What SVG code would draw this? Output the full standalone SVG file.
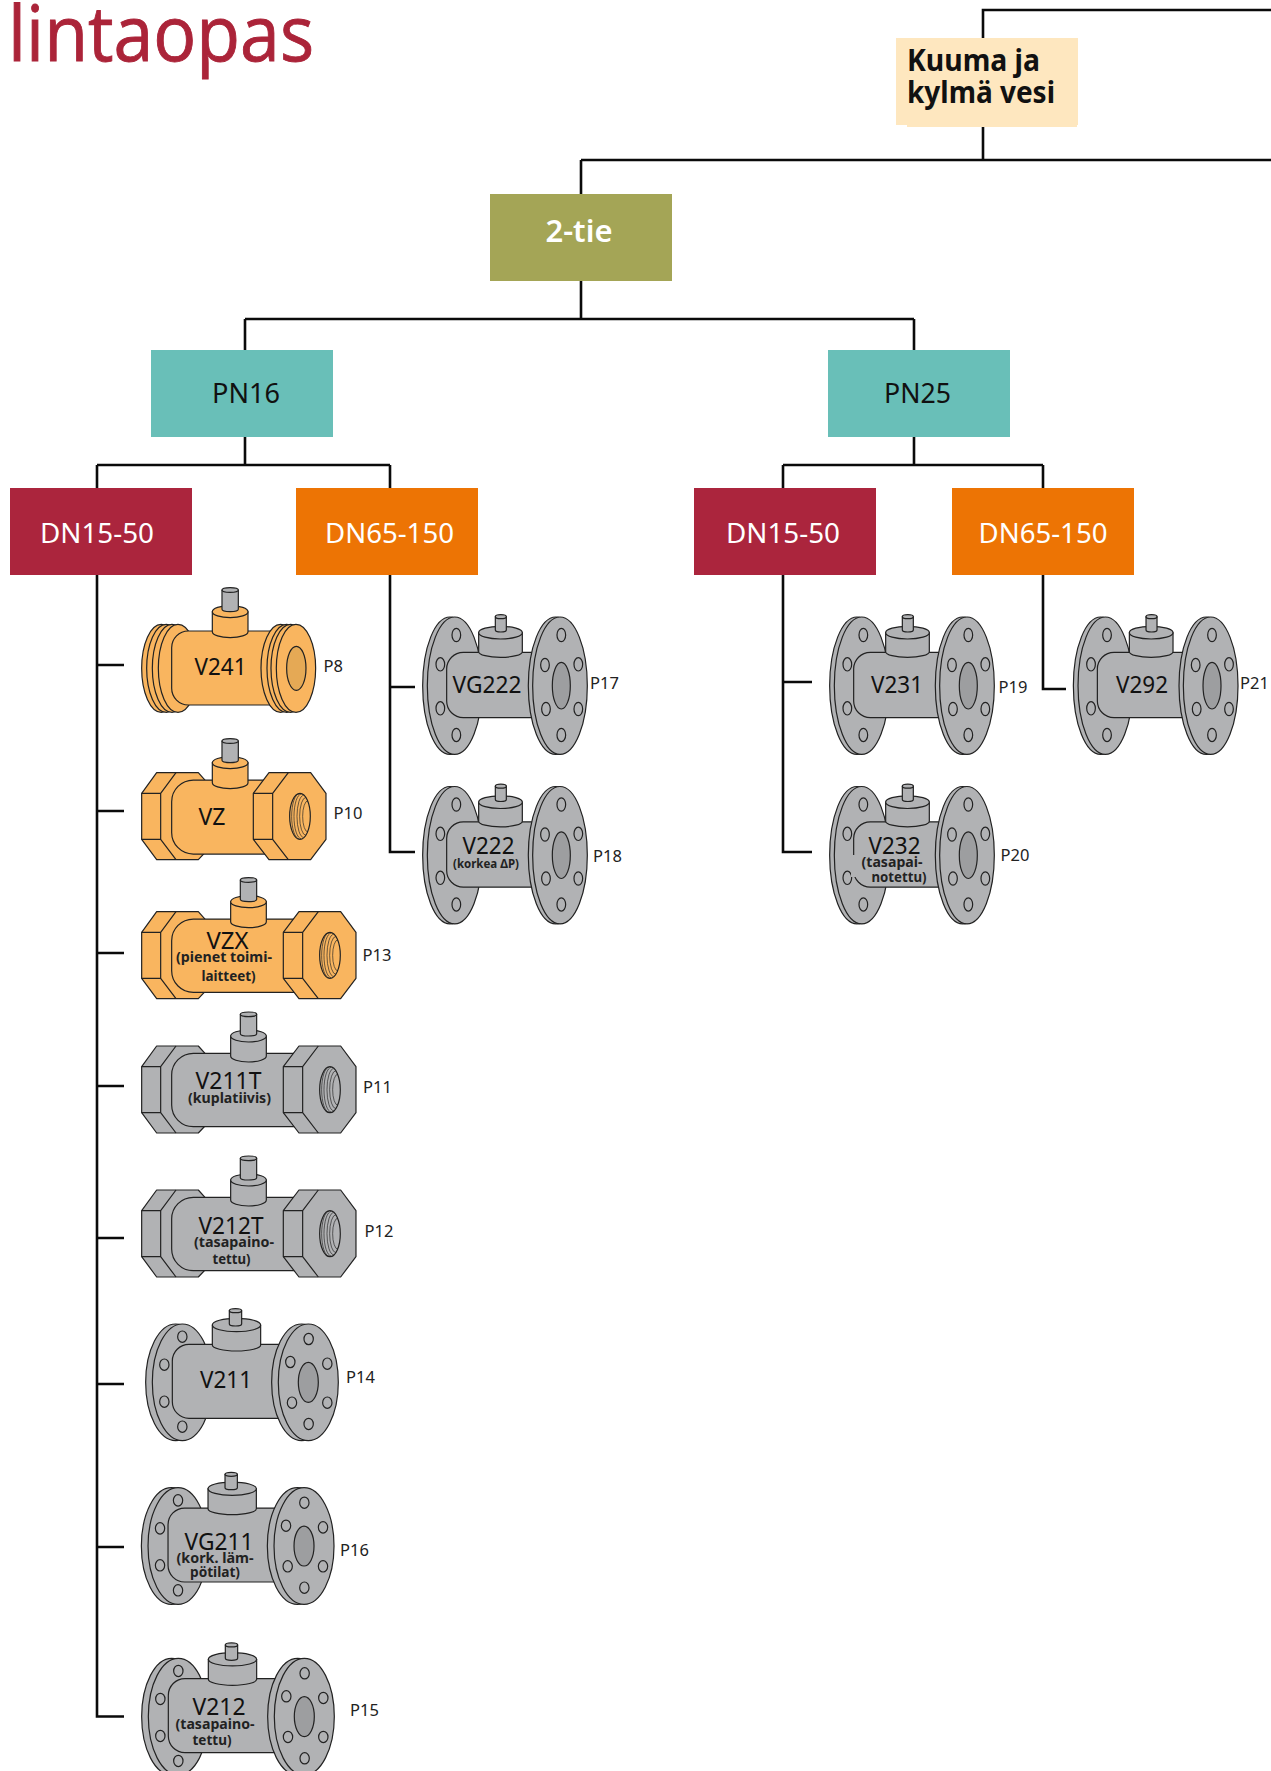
<svg xmlns="http://www.w3.org/2000/svg" width="1271" height="1771" viewBox="0 0 1271 1771">
<style>
text{font-family:"Noto Sans","Open Sans",sans-serif;fill:#111}
.box{font-size:28px}
.w{fill:#fff}
.n{font-size:23px}
.s{font-size:14.5px;font-weight:700;fill:#222}
.p{font-size:16.5px;fill:#222}
.con{fill:none;stroke:#0a0a0a;stroke-width:2.6}
.v{stroke:#222;stroke-width:3.6;stroke-linejoin:round}
.o{fill:#f9b55f;--h:#e5a955}
.g{fill:#b1b2b4;--h:#9d9ea0}
.h{fill:var(--h)}
.pin{fill:#b1b2b4}
.t{fill:none;stroke-width:2}
.nf{fill:none}
.patch{fill:#b1b2b4}
</style>
<defs>
<g id="stemT">
<path d="M247,125V185A53.5,18 0 0 0 354,185V125Z"/><ellipse cx="300.5" cy="125" rx="53.5" ry="18"/>
<path class="pin" d="M276,60V118A24.5,7 0 0 0 325,118V60Z"/><ellipse class="pin" cx="300.5" cy="60" rx="24.5" ry="7"/>
</g>
<g id="s241" transform="scale(.3333)">
<ellipse cx="94" cy="295" rx="59" ry="132"/><ellipse cx="109" cy="295" rx="59" ry="132"/><ellipse cx="126" cy="295" rx="59" ry="132"/><ellipse cx="144" cy="295" rx="59" ry="132"/>
<path d="M175,183H425V405H175A50,50 0 0 1 125,355V233A50,50 0 0 1 175,183Z"/>
<ellipse cx="452" cy="295" rx="59" ry="132"/><ellipse cx="470" cy="295" rx="59" ry="132"/><ellipse cx="482" cy="295" rx="59" ry="132"/><ellipse cx="498" cy="295" rx="59" ry="132"/>
<ellipse class="h" cx="499" cy="295" rx="29" ry="66"/>
<use href="#stemT"/>
</g>
<g id="nutL">
<path d="M35,62L80,0H205L225,22V240L205,261H80L35,200Z"/>
<path class="nf" d="M35,62H92V200H35M92,62L138,0M92,200L138,261"/>
</g>
<g id="nutR">
<path d="M460,62L507,0H632L678,62V200L632,261H507L460,200Z"/>
<path class="nf" d="M460,62H518V200H460M518,62L565,0M518,200L565,261"/>
<ellipse cx="600" cy="131" rx="31" ry="69"/>
<path class="t" d="M597,64A22,67 0 0 0 597,198M604,64A22,67 0 0 0 604,198M611,68A20,63 0 0 0 611,194M618,74A19,57 0 0 0 618,188M624,84A16,47 0 0 0 624,178"/>
</g>
<g id="hexL" transform="scale(.3333)">
<use href="#nutL"/>
<path d="M190,22A65,65 0 0 0 125,87V177A65,65 0 0 0 190,242H495V22Z"/>
<use href="#nutR"/>
<use href="#stemT" transform="translate(55,-155)"/>
</g>
<g id="hexS" transform="scale(.3333)">
<use href="#nutL"/>
<path d="M190,22A65,65 0 0 0 125,87V177A65,65 0 0 0 190,244H405V22Z"/>
<use href="#nutR" transform="translate(-90,0)"/>
<use href="#stemT" transform="translate(0,-155)"/>
</g>
<g id="flS" transform="scale(.3333)">
<ellipse cx="137" cy="277" rx="90" ry="175"/><ellipse cx="157" cy="277" rx="90" ry="175"/>
<ellipse cx="157" cy="140" rx="14" ry="17"/><ellipse cx="157" cy="410" rx="14" ry="17"/><ellipse cx="103" cy="224" rx="14" ry="17"/><ellipse cx="103" cy="335" rx="14" ry="17"/>
<path d="M177,163H450V385H177A50,50 0 0 1 127,335V213A50,50 0 0 1 177,163Z"/>
<ellipse cx="515" cy="277" rx="90" ry="175"/><ellipse cx="535" cy="277" rx="90" ry="175"/>
<ellipse cx="536" cy="147" rx="14" ry="17"/><ellipse cx="536" cy="402" rx="14" ry="17"/><ellipse cx="481" cy="216" rx="14" ry="17"/><ellipse cx="592" cy="221" rx="14" ry="17"/><ellipse cx="486" cy="338" rx="14" ry="17"/><ellipse cx="592" cy="338" rx="14" ry="17"/>
<ellipse class="h" cx="535" cy="277" rx="30" ry="60"/>
<path d="M247,105V165A72.5,18 0 0 0 392,165V105Z"/><ellipse cx="319.5" cy="105" rx="72.5" ry="20"/>
<path class="pin" d="M298,62V102A18.5,6 0 0 0 335,102V62Z"/><ellipse class="pin" cx="316.5" cy="62" rx="18.5" ry="6"/>
</g>
<g id="flL" transform="scale(.3333)">
<ellipse cx="120" cy="257" rx="82" ry="206"/><ellipse cx="134" cy="257" rx="82" ry="206"/>
<ellipse cx="139" cy="105" rx="13" ry="20"/><ellipse cx="139" cy="405" rx="13" ry="20"/><ellipse cx="91" cy="193" rx="13" ry="20"/><ellipse cx="91" cy="325" rx="13" ry="20"/>
<path d="M160,157H370V353H160A50,50 0 0 1 110,303V207A50,50 0 0 1 160,157Z"/>
<ellipse cx="437" cy="257" rx="82" ry="206"/><ellipse cx="450" cy="257" rx="82" ry="206"/>
<ellipse cx="454" cy="105" rx="13" ry="20"/><ellipse cx="454" cy="405" rx="13" ry="20"/><ellipse cx="405" cy="195" rx="13" ry="20"/><ellipse cx="505" cy="193" rx="13" ry="20"/><ellipse cx="408" cy="327" rx="13" ry="20"/><ellipse cx="505" cy="327" rx="13" ry="20"/>
<ellipse class="h" cx="454" cy="257" rx="27" ry="70"/>
<path d="M206,98V155A65.5,17 0 0 0 337,155V98Z"/><ellipse cx="271.500" cy="98" rx="65.5" ry="19"/>
<path class="pin" d="M256,50V90A16.5,6 0 0 0 289,90V50Z"/><ellipse class="pin" cx="272.500" cy="50" rx="16.5" ry="6"/>
</g>
</defs>
<rect width="1271" height="1771" fill="#fff"/>
<text id="title" x="8" y="61" font-size="77" textLength="306" lengthAdjust="spacingAndGlyphs" style="font-family:'Open Sans','Noto Sans',sans-serif;fill:#ab2439;stroke:#ab2439;stroke-width:.9">lintaopas</text>
<g id="connectors" class="con">
<path d="M983,38V10H1271M983,125V160M581,160H1271M581,160V194M581,281V319M245,319H914M245,319V350M914,319V350M245,437V465M97,465H390M97,465V488M390,465V488M914,437V465M783,465H1043M783,465V488M1043,465V488"/>
<path d="M97,575V1716.500H124M97,665H124M97,811H124M97,953H124M97,1086H124M97,1238H124M97,1384H124M97,1547H124"/>
<path d="M390,575V852H415M390,687H415"/>
<path d="M783,575V852H812M783,682H812"/>
<path d="M1043,575V689H1066"/>
</g>
<g id="n-kuuma"><rect x="896" y="38" width="182" height="87" fill="#fee7bf"/><rect x="907" y="120" width="170" height="7" fill="#fee7bf"/>
<text x="907" y="71" font-size="30" font-weight="700" textLength="133" lengthAdjust="spacingAndGlyphs">Kuuma ja</text>
<text x="907" y="103" font-size="30" font-weight="700" textLength="148" lengthAdjust="spacingAndGlyphs">kylmä vesi</text></g>
<g id="n-2tie"><rect x="490" y="194" width="182" height="87" fill="#a4a556"/><text class="box w" x="545.500" y="242" font-weight="600" textLength="67" lengthAdjust="spacingAndGlyphs" style="font-size:30px">2-tie</text></g>
<g id="n-pn16"><rect x="151" y="350" width="182" height="87" fill="#69bfb8"/><text class="box" x="212" y="403" textLength="68" lengthAdjust="spacingAndGlyphs">PN16</text></g>
<g id="n-pn25"><rect x="828" y="350" width="182" height="87" fill="#69bfb8"/><text class="box" x="884" y="403" textLength="67" lengthAdjust="spacingAndGlyphs">PN25</text></g>
<g id="n-dn1550a"><rect x="10" y="488" width="182" height="87" fill="#ab253d"/><text class="box w" x="40" y="543" textLength="114" lengthAdjust="spacingAndGlyphs">DN15-50</text></g>
<g id="n-dn65150a"><rect x="296" y="488" width="182" height="87" fill="#ed7404"/><text class="box w" x="325" y="543" textLength="129" lengthAdjust="spacingAndGlyphs">DN65-150</text></g>
<g id="n-dn1550b"><rect x="694" y="488" width="182" height="87" fill="#ab253d"/><text class="box w" x="726" y="543" textLength="114" lengthAdjust="spacingAndGlyphs">DN15-50</text></g>
<g id="n-dn65150b"><rect x="952" y="488" width="182" height="87" fill="#ed7404"/><text class="box w" x="978.500" y="543" textLength="129" lengthAdjust="spacingAndGlyphs">DN65-150</text></g>

<g id="v241"><g class="v o"><use href="#s241" transform="translate(130 570)"/></g><text class="n" x="194.500" y="675" textLength="52" lengthAdjust="spacingAndGlyphs">V241</text><text class="p" x="323.500" y="672">P8</text></g>
<g id="vz"><g class="v o"><use href="#hexS" transform="translate(130 772.700)"/></g><text class="n" x="198.500" y="825" textLength="27" lengthAdjust="spacingAndGlyphs">VZ</text><text class="p" x="333.500" y="819">P10</text></g>
<g id="vzx"><g class="v o"><use href="#hexL" transform="translate(130 911.700)"/></g><text class="n" x="206.500" y="948.500" textLength="42" lengthAdjust="spacingAndGlyphs">VZX</text><text class="s" x="176" y="962" textLength="96" lengthAdjust="spacingAndGlyphs">(pienet toimi-</text><text class="s" x="201.500" y="981" textLength="54" lengthAdjust="spacingAndGlyphs">laitteet)</text><text class="p" x="362.500" y="961">P13</text></g>
<g id="v211t"><g class="v g"><use href="#hexL" transform="translate(130 1046)"/></g><text class="n" x="195.500" y="1088.500" textLength="66" lengthAdjust="spacingAndGlyphs">V211T</text><text class="s" x="188" y="1103" textLength="83" lengthAdjust="spacingAndGlyphs">(kuplatiivis)</text><text class="p" x="363" y="1093">P11</text></g>
<g id="v212t"><g class="v g"><use href="#hexL" transform="translate(130 1190)"/></g><text class="n" x="198.500" y="1233.500" textLength="65" lengthAdjust="spacingAndGlyphs">V212T</text><text class="s" x="194" y="1247" textLength="80" lengthAdjust="spacingAndGlyphs">(tasapaino-</text><text class="s" x="212.500" y="1264" textLength="38" lengthAdjust="spacingAndGlyphs">tettu)</text><text class="p" x="364.500" y="1237">P12</text></g>
<g id="v211"><g class="v g"><use href="#flS" transform="translate(130 1290)"/></g><text class="n" x="200" y="1388" textLength="52" lengthAdjust="spacingAndGlyphs">V211</text><text class="p" x="346" y="1382.500">P14</text></g>
<g id="vg211"><g class="v g"><use href="#flS" transform="translate(125.700 1453.700)"/></g><text class="n" x="184.500" y="1549.500" textLength="69" lengthAdjust="spacingAndGlyphs">VG211</text><text class="s" x="176.500" y="1563" textLength="77" lengthAdjust="spacingAndGlyphs">(kork. läm-</text><text class="s" x="190" y="1577" textLength="50" lengthAdjust="spacingAndGlyphs">pötilat)</text><text class="p" x="340" y="1556">P16</text></g>
<g id="v212"><g class="v g"><use href="#flS" transform="translate(126 1624.300)"/></g><text class="n" x="192.500" y="1714.500" textLength="53" lengthAdjust="spacingAndGlyphs">V212</text><text class="s" x="175.500" y="1729" textLength="79" lengthAdjust="spacingAndGlyphs">(tasapaino-</text><text class="s" x="192.500" y="1745" textLength="39" lengthAdjust="spacingAndGlyphs">tettu)</text><text class="p" x="350" y="1716">P15</text></g>
<g id="vg222"><g class="v g"><use href="#flL" transform="translate(410 600)"/></g><text class="n" x="452.500" y="692.500" textLength="69" lengthAdjust="spacingAndGlyphs">VG222</text><text class="p" x="590" y="688.500">P17</text></g>
<g id="v222"><g class="v g"><use href="#flL" transform="translate(410 769.500)"/></g><text class="n" x="462.500" y="854" textLength="52" lengthAdjust="spacingAndGlyphs">V222</text><text class="s" x="453" y="868" textLength="66" lengthAdjust="spacingAndGlyphs" style="font-size:11.5px">(korkea ΔP)</text><text class="p" x="593" y="862">P18</text></g>
<g id="v231"><g class="v g"><use href="#flL" transform="translate(817 600)"/></g><text class="n" x="871" y="692.500" textLength="52" lengthAdjust="spacingAndGlyphs">V231</text><text class="p" x="998.500" y="693">P19</text></g>
<g id="v232"><g class="v g"><use href="#flL" transform="translate(817 769.500)"/><rect class="patch" stroke="none" x="851" y="855" width="5" height="22"/></g><text class="n" x="868.500" y="853.500" textLength="52" lengthAdjust="spacingAndGlyphs">V232</text><text class="s" x="861.500" y="867" textLength="61" lengthAdjust="spacingAndGlyphs">(tasapai-</text><text class="s" x="871.500" y="882" textLength="55" lengthAdjust="spacingAndGlyphs">notettu)</text><text class="p" x="1000.500" y="861">P20</text></g>
<g id="v292"><g class="v g"><use href="#flL" transform="translate(1060.700 600)"/></g><text class="n" x="1116" y="692.500" textLength="52" lengthAdjust="spacingAndGlyphs">V292</text><text class="p" x="1240" y="689">P21</text></g>
</svg>
